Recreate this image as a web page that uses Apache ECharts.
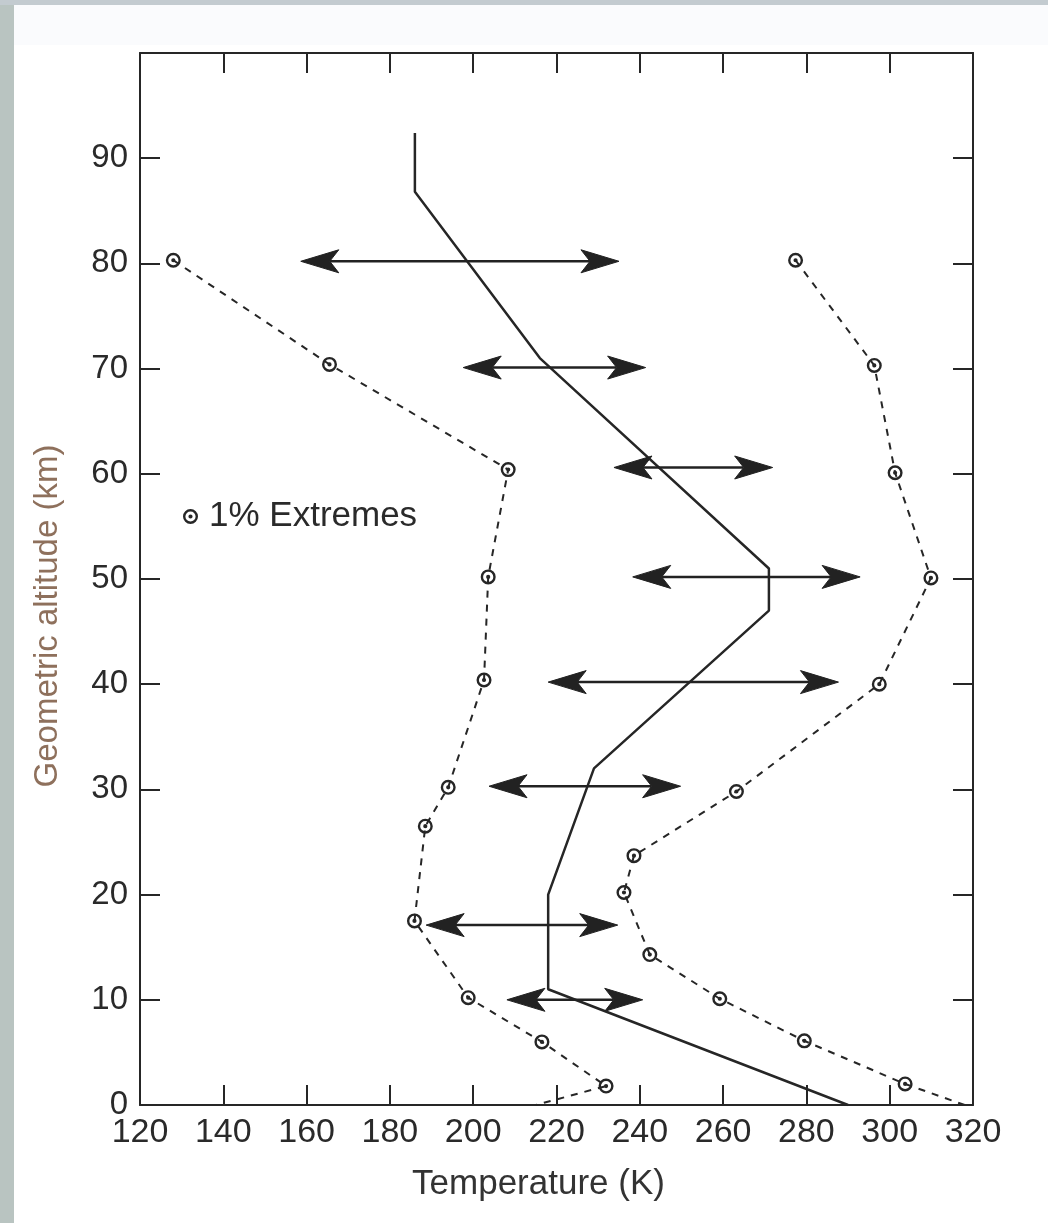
<!DOCTYPE html>
<html>
<head>
<meta charset="utf-8">
<script src="https://cdn.jsdelivr.net/npm/echarts@6/dist/echarts.min.js"></script>
<style>
  html, body { margin: 0; padding: 0; background: #ffffff; }
  #chart { width: 1048px; height: 1223px; }
</style>
</head>
<body>
<div id="chart"></div>
<script>
// ---- Data ----
// Mean temperature profile: [temperature K, altitude km]
const meanProfile = [[290, 0], [218, 11], [218, 20], [229, 32], [271, 47], [271, 51], [216, 71], [186, 86.8], [186, 92.4]];
// 1% cold extremes: [temperature K, altitude km]
const coldExtremes = [[128, 80.3], [165.5, 70.4], [208.4, 60.4], [203.6, 50.2], [202.6, 40.4], [194, 30.2], [188.5, 26.5], [185.9, 17.5], [198.8, 10.2], [216.5, 6.0], [231.9, 1.8]];
const coldSurface = [215, 0];
// 1% hot extremes: [temperature K, altitude km]
const hotExtremes = [[277.4, 80.3], [296.3, 70.3], [301.3, 60.1], [309.9, 50.1], [297.5, 40], [263.2, 29.8], [238.6, 23.7], [236.2, 20.2], [242.4, 14.3], [259.2, 10.1], [279.5, 6.1], [303.7, 2.0]];
const hotSurface = [318, 0];
// Double-headed range arrows
const arrowAlt  = [80.2, 70.1, 60.6, 50.2, 40.2, 30.3, 17.1, 10];
const arrowLow  = [158.6, 197.6, 233.8, 238.3, 218, 203.8, 188.7, 208.1];
const arrowHigh = [235, 241.4, 271.9, 292.9, 287.7, 249.8, 234.7, 240.7];
// Axis ticks
const xTicks = [120, 140, 160, 180, 200, 220, 240, 260, 280, 300, 320];
const yTicks = [0, 10, 20, 30, 40, 50, 60, 70, 80, 90];

const INK = '#262626';
const FONT = '"Liberation Sans", Arial, Helvetica, sans-serif';
const ringDot = 'path://M-10 0A10 10 0 1 1 10 0A10 10 0 1 1 -10 0Z' +
                'M-6.8 0A6.8 6.8 0 1 0 6.8 0A6.8 6.8 0 1 0 -6.8 0Z' +
                'M-2.8 0A2.8 2.8 0 1 1 2.8 0A2.8 2.8 0 1 1 -2.8 0Z';

const chart = echarts.init(document.getElementById('chart'), null, { renderer: 'canvas' });

function withTail(points, tail) {
  return points.map(p => ({ value: p })).concat([{ value: tail, symbol: 'none' }]);
}

const arrowData = arrowAlt.map((a, i) => [a, arrowLow[i], arrowHigh[i]]);

const option = {
  animation: false,
  backgroundColor: '#ffffff',
  graphic: [
    { type: 'rect', left: 0, top: 0, shape: { width: 14, height: 1223 }, style: { fill: '#b9c4c1' }, z: -10 },
    { type: 'rect', left: 0, top: 0, shape: { width: 1048, height: 5 }, style: { fill: '#c3cbd0' }, z: -10 },
    { type: 'rect', left: 14, top: 5, shape: { width: 1034, height: 40 }, style: { fill: '#fafbfd' }, z: -10 }
  ],
  grid: { left: 140, right: 75, top: 53, bottom: 118, containLabel: false },
  legend: {
    data: ['1% Extremes'],
    left: 178, top: 494,
    icon: ringDot,
    itemWidth: 15, itemHeight: 15,
    selectedMode: false,
    textStyle: { fontFamily: FONT, fontSize: 35, color: '#2a2a2a', padding: [0, 0, 0, 6] }
  },
  xAxis: [
    {
      type: 'value', position: 'bottom', min: 120, max: 320, interval: 20,
      name: 'Temperature (K)', nameLocation: 'middle', nameGap: 62,
      nameTextStyle: { fontFamily: FONT, fontSize: 35, color: '#333333', padding: [0, 36, 0, 0] },
      axisLine: { show: true, onZero: false, lineStyle: { color: INK, width: 2 } },
      axisTick: { show: true, inside: true, length: 20, lineStyle: { color: INK, width: 2 } },
      axisLabel: { fontFamily: FONT, fontSize: 34, color: '#2a2a2a', margin: 11,
                   formatter: v => xTicks.indexOf(v) >= 0 ? String(v) : '' },
      splitLine: { show: false }
    },
    {
      type: 'value', position: 'top', min: 120, max: 320, interval: 20,
      axisLine: { show: true, onZero: false, lineStyle: { color: INK, width: 2 } },
      axisTick: { show: true, inside: true, length: 20, lineStyle: { color: INK, width: 2 } },
      axisLabel: { show: false },
      splitLine: { show: false }
    }
  ],
  yAxis: [
    {
      type: 'value', position: 'left', min: 0, max: 100, interval: 10,
      name: 'Geometric altitude (km)', nameLocation: 'middle', nameGap: 76,
      nameTextStyle: { fontFamily: FONT, fontSize: 33, color: '#8e705c', padding: [0, 74, 0, 0] },
      axisLine: { show: true, onZero: false, lineStyle: { color: INK, width: 2 } },
      axisTick: { show: true, inside: true, length: 20, lineStyle: { color: INK, width: 2 } },
      axisLabel: { fontFamily: FONT, fontSize: 33, color: '#2a2a2a', margin: 12,
                   formatter: v => yTicks.indexOf(v) >= 0 ? String(v) : '' },
      splitLine: { show: false }
    },
    {
      type: 'value', position: 'right', min: 0, max: 100, interval: 10,
      axisLine: { show: true, onZero: false, lineStyle: { color: INK, width: 2 } },
      axisTick: { show: true, inside: true, length: 20, lineStyle: { color: INK, width: 2 } },
      axisLabel: { show: false },
      splitLine: { show: false }
    }
  ],
  series: [
    {
      name: 'Mean', type: 'line', xAxisIndex: 0, yAxisIndex: 0,
      data: meanProfile, symbol: 'none', smooth: false,
      lineStyle: { color: INK, width: 2.5 }, z: 3
    },
    {
      name: '1% Extremes', type: 'line', xAxisIndex: 0, yAxisIndex: 0,
      data: withTail(coldExtremes, coldSurface),
      symbol: ringDot, symbolSize: 15, showAllSymbol: true,
      itemStyle: { color: INK, borderWidth: 0 },
      lineStyle: { color: INK, width: 2, type: [7, 7] }, z: 4
    },
    {
      name: '1% Extremes', type: 'line', xAxisIndex: 0, yAxisIndex: 0,
      data: withTail(hotExtremes, hotSurface),
      symbol: ringDot, symbolSize: 15, showAllSymbol: true,
      itemStyle: { color: INK, borderWidth: 0 },
      lineStyle: { color: INK, width: 2, type: [7, 7] }, z: 4
    },
    {
      name: 'Range', type: 'custom', xAxisIndex: 0, yAxisIndex: 0,
      data: arrowData,
      encode: { x: [1, 2], y: 0 },
      z: 5,
      renderItem: function (params, api) {
        const alt = api.value(0), lo = api.value(1), hi = api.value(2);
        const p1 = api.coord([lo, alt]);
        const p2 = api.coord([hi, alt]);
        const y = p1[1];
        const L = 38, W = 11.5, N = 29;
        const style = { fill: '#222222', stroke: '#222222', lineWidth: 1 };
        return {
          type: 'group',
          children: [
            { type: 'line', shape: { x1: p1[0] + N, y1: y, x2: p2[0] - N, y2: y },
              style: { stroke: '#222222', lineWidth: 2.5 } },
            { type: 'polygon', shape: { points: [[p1[0], y], [p1[0] + L, y - W], [p1[0] + N, y], [p1[0] + L, y + W]] },
              style: style },
            { type: 'polygon', shape: { points: [[p2[0], y], [p2[0] - L, y - W], [p2[0] - N, y], [p2[0] - L, y + W]] },
              style: style }
          ]
        };
      }
    }
  ]
};

chart.setOption(option);
</script>
</body>
</html>
